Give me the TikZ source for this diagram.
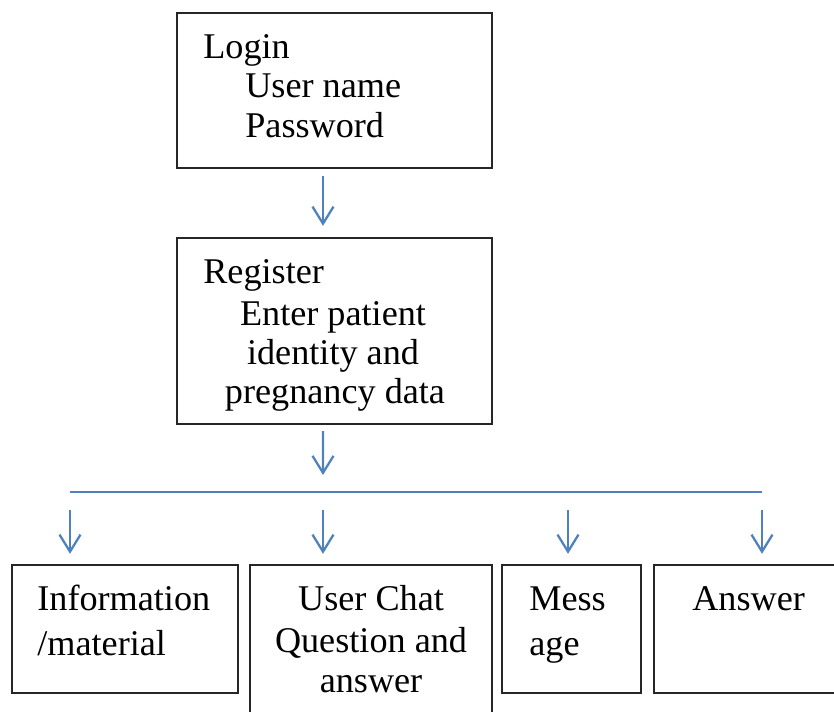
\documentclass[tikz,border=0pt]{standalone}
\usepackage{fontspec}
\setmainfont{Liberation Serif}
\usetikzlibrary{arrows.meta}
\definecolor{flowblue}{RGB}{79,129,189}

\begin{document}
\begin{tikzpicture}[x=0.02cm,y=-0.02cm,
  box/.style={draw=black!85,line width=1.4pt,inner sep=0pt},
  txt/.style={anchor=base west,inner sep=0pt,font=\fontsize{20.6}{24}\selectfont},
  ctxt/.style={anchor=base,inner sep=0pt,font=\fontsize{20.6}{24}\selectfont},
  flow/.style={draw=flowblue,line width=1.3pt,-{Straight Barb[length=0.34cm,width=0.42cm]}}]
\useasboundingbox (0,0) rectangle (834,711);

% boxes
\node[box,minimum width=6.3cm,minimum height=3.1cm] (login) at (334.5,90.5) {};
\node[box,minimum width=6.3cm,minimum height=3.72cm] (register) at (334.5,331) {};
\node[box,minimum width=4.52cm,minimum height=2.56cm] (info) at (125,629) {};
\node[box,minimum width=4.84cm,minimum height=3.2cm] (chat) at (371,645) {};
\node[box,minimum width=2.78cm,minimum height=2.56cm] (msg) at (571.5,629) {};
\node[box,minimum width=3.84cm,minimum height=2.56cm] (answer) at (750,629) {};

% login and register texts
\node[txt] (tlogin) at (203,58) {Login};
\node[txt] (tuser) at (245,97) {User name};
\node[txt] (tpass) at (245,137) {Password};
\node[txt] (treg) at (203,283) {Register};
\node[ctxt] (tenter) at (333,325) {Enter patient};
\node[ctxt] (tident) at (333,364) {identity and};
\node[ctxt] (tpreg) at (335,403) {pregnancy data};

% bottom row texts
\node[txt] (tinfo) at (37,610) {Information};
\node[txt] (tmat) at (37,655) {/material};
\node[ctxt] (tchat) at (371,610) {User Chat};
\node[ctxt] (tquest) at (371,652) {Question and};
\node[ctxt] (tans) at (371,692) {answer};
\node[txt] (tmess) at (529,610) {Mess};
\node[txt] (tage) at (529,655) {age};
\node[txt] (tanswer) at (692,610) {Answer};

% bus line
\coordinate (busL) at (70,492);
\coordinate (busR) at (762,492);
\coordinate (bus) at (323,492);
\draw[flowblue,line width=1.3pt] (busL) -- (busR);

\draw[flow] ([xshift=-0.23cm,yshift=-0.14cm]login.south) -- ([xshift=-0.23cm,yshift=0.22cm]register.north);
\draw[flow] ([xshift=-0.23cm,yshift=-0.12cm]register.south) -- ([yshift=0.34cm]bus);

% arrows down to the four boxes
\foreach \x/\b in {70/info,323/chat,568/msg,762/answer} {
  \coordinate (d\b) at (\x,492);
  \path (d\b |- \b.north) coordinate (e\b);
  \draw[flow] ([yshift=-0.36cm]d\b) -- ([yshift=0.2cm]e\b);
}

\end{tikzpicture}
\end{document}
